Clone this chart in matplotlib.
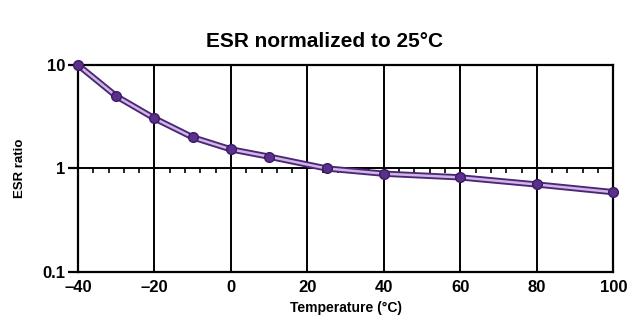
import numpy as np
import matplotlib
matplotlib.use("Agg")
import matplotlib.pyplot as plt
import matplotlib.transforms as mtransforms

# values
temperature = [-40, -30, -20, -10, 0, 10, 25, 40, 60, 80, 100]
esr_ratio = [10.0, 5.0, 3.05, 2.0, 1.53, 1.3, 1.0, 0.89, 0.82, 0.70, 0.59]
xticks = [-40, -20, 0, 20, 40, 60, 80, 100]
xtick_labels = ["\u201340", "\u201320", "0", "20", "40", "60", "80", "100"]
yticks = [0.1, 1, 10]
ytick_labels = ["0.1", "1", "10"]

font = ["Liberation Sans Narrow", "Liberation Sans", "DejaVu Sans"]
plt.rcParams["font.family"] = font
plt.rcParams["font.weight"] = "bold"

fig = plt.figure(figsize=(6.29, 3.3), dpi=100)
ax = fig.add_axes([0.124, 0.176, 0.851, 0.627])

ax.set_yscale("log")
ax.set_xlim(-40, 100)
ax.set_ylim(0.1, 10)

# grid: vertical lines at major ticks, one horizontal line at 1
for x in xticks[1:-1]:
    ax.axvline(x, color="black", lw=1.4, zorder=1)
ax.axhline(1, color="black", lw=1.4, zorder=1)

# little ticks hanging under the y=1 line
trans = mtransforms.blended_transform_factory(ax.transData, ax.transAxes)
small = [x for x in np.arange(-40, 101, 4) if x % 20 != 0]
ax.vlines(small, 0.5 - 5 / 207, 0.5, transform=trans, color="black", lw=1.2, zorder=1)

# double-stroke purple line with dots
ax.plot(temperature, esr_ratio, color="#4a2775", lw=4.5, zorder=3,
        solid_capstyle="round")
ax.plot(temperature, esr_ratio, color="#d2b4e6", lw=1.8, zorder=4)
ax.plot(temperature, esr_ratio, "o", color="#5b2f8c", ms=7, mec="#3b1c63",
        mew=1, zorder=5, clip_on=False)

for s in ax.spines.values():
    s.set_linewidth(1.6)
    s.set_color("black")

ax.set_xticks(xticks)
ax.set_xticklabels(xtick_labels, fontsize=12, fontweight="bold")
ax.set_yticks(yticks)
ax.set_yticklabels(ytick_labels, fontsize=12, fontweight="bold")
ax.yaxis.set_minor_locator(matplotlib.ticker.NullLocator())
ax.tick_params(axis="x", length=0, pad=6)
ax.tick_params(axis="y", length=7, width=1.6, direction="out", pad=2)

ax.set_xlabel("Temperature (\u00b0C)", fontsize=10, fontweight="bold", labelpad=4)
ax.set_ylabel("ESR ratio", fontsize=9.5, fontweight="bold", labelpad=12)
ax.set_title("ESR normalized to 25\u00b0C", fontsize=15, fontweight="bold",
             pad=13, x=0.46)

fig.savefig("out.png", dpi=100)
